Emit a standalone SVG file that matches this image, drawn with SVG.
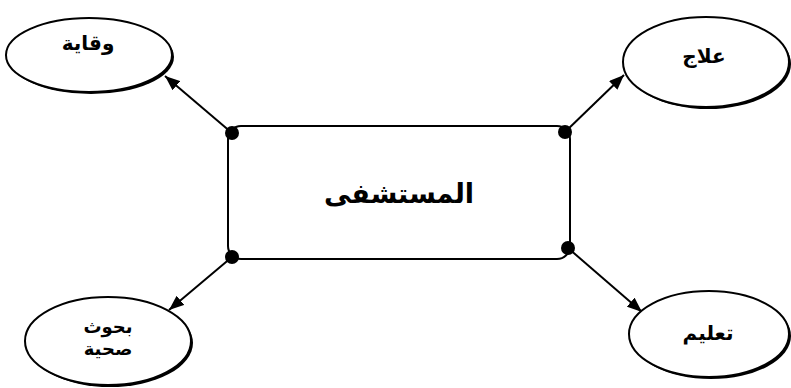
<svg xmlns="http://www.w3.org/2000/svg" width="791" height="388" viewBox="0 0 791 388">
<style>
.shadow{fill:#000}
.node{fill:#fff;stroke:#000;stroke-width:2}
.lbl{font-family:"DejaVu Sans",sans-serif;font-weight:bold;fill:#000;text-anchor:middle}
.conn{stroke:#000;stroke-width:2;fill:none}
.dot{fill:#000}
</style>
<defs>
<marker id="arr" viewBox="0 0 15 12" refX="15" refY="6" markerWidth="15" markerHeight="12" orient="auto" markerUnits="userSpaceOnUse">
<path d="M0,0 L15,6 L0,12 z" fill="#000"/>
</marker>
</defs>
<rect width="791" height="388" fill="#fff"/>
<g id="connectors">
<line class="conn" x1="232" y1="133" x2="165" y2="76" marker-end="url(#arr)"/>
<line class="conn" x1="565" y1="132" x2="624" y2="75" marker-end="url(#arr)"/>
<line class="conn" x1="232" y1="257" x2="169" y2="310" marker-end="url(#arr)"/>
<line class="conn" x1="568" y1="248" x2="642" y2="312" marker-end="url(#arr)"/>
</g>
<g id="hospital">
<rect class="node" x="228" y="126" width="342" height="133" rx="13"/>
<text class="lbl" x="399" y="203" font-size="27">المستشفى</text>
<circle class="dot" cx="232" cy="133" r="7"/>
<circle class="dot" cx="565" cy="132" r="7"/>
<circle class="dot" cx="232" cy="257" r="7"/>
<circle class="dot" cx="568" cy="248" r="7"/>
</g>
<g id="prevention">
<ellipse class="shadow" cx="91" cy="57" rx="83" ry="37"/>
<ellipse class="node" cx="89" cy="55" rx="83" ry="37"/>
<text class="lbl" x="88" y="50" font-size="20">وقاية</text>
</g>
<g id="treatment">
<ellipse class="shadow" cx="708" cy="64" rx="83" ry="45"/>
<ellipse class="node" cx="706" cy="62" rx="83" ry="45"/>
<text class="lbl" x="704" y="63" font-size="20">علاج</text>
</g>
<g id="research">
<ellipse class="shadow" cx="110" cy="343" rx="83" ry="44"/>
<ellipse class="node" cx="108" cy="341" rx="83" ry="44"/>
<text class="lbl" x="108" y="333" font-size="18">بحوث</text>
<text class="lbl" x="108" y="355" font-size="18">صحية</text>
</g>
<g id="education">
<ellipse class="shadow" cx="711" cy="336" rx="80" ry="43"/>
<ellipse class="node" cx="709" cy="334" rx="80" ry="43"/>
<text class="lbl" x="708" y="340" font-size="20">تعليم</text>
</g>
</svg>
